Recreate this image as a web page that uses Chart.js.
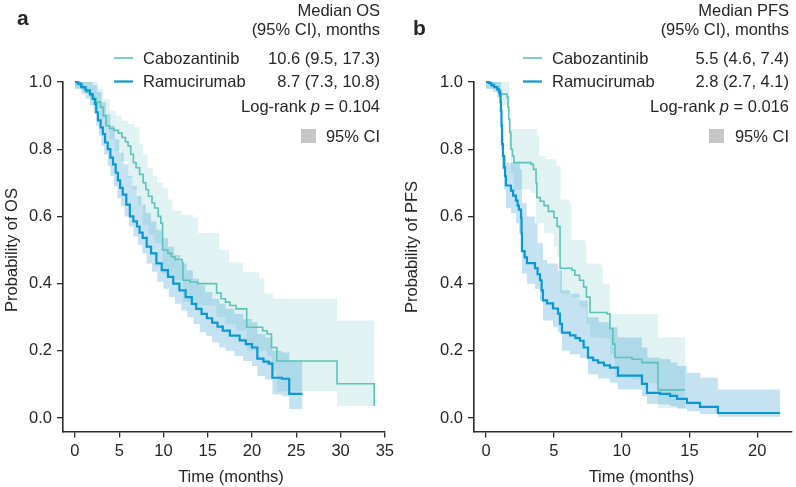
<!DOCTYPE html>
<html>
<head>
<meta charset="utf-8">
<title>Cabozantinib vs Ramucirumab: OS and PFS</title>
<script src="https://cdn.jsdelivr.net/npm/chart.js@4.4.1/dist/chart.umd.min.js"></script>
<style>
  html, body { margin: 0; padding: 0; background: #fff; }
  #wrap { position: relative; width: 796px; height: 487px; }
  canvas { position: absolute; top: 0; }
</style>
</head>
<body>
<div id="wrap">
  <canvas id="osChart" width="398" height="487" style="left:0"></canvas>
  <canvas id="pfsChart" width="398" height="487" style="left:398px"></canvas>
</div>
<script>
// ---- data: [time (months), survival probability] ----

// Panel a - overall survival
const caboOS = [[0,1.0],[0.5,0.99],[0.9,0.98],[1.3,0.97],[1.7,0.96],[2.1,0.95],[2.4,0.94],[2.9,0.925],[3.2,0.90],[3.5,0.87],
  [3.9,0.862],[4.4,0.856],[4.9,0.848],[5.3,0.835],[5.7,0.822],[6.0,0.81],[6.3,0.785],[6.6,0.76],[6.9,0.745],[7.3,0.725],
  [7.7,0.70],[8.0,0.68],[8.3,0.66],[8.7,0.64],[9.0,0.625],[9.4,0.60],[9.7,0.58],[9.9,0.50],[10.5,0.49],[10.9,0.48],
  [11.3,0.472],[12.1,0.462],[12.2,0.41],[13.0,0.405],[13.9,0.40],[16.0,0.372],[16.5,0.355],[17.0,0.345],[17.5,0.335],
  [18.2,0.325],[19.4,0.27],[21.2,0.26],[21.7,0.25],[22.2,0.21],[22.8,0.17],[29.6,0.102],[33.8,0.036]];
const caboOSHi = [[0,1.0],[2.0,1.0],[2.6,0.98],[3.2,0.95],[3.9,0.915],[4.6,0.9],[5.3,0.885],[6.0,0.875],[6.75,0.865],
  [7.3,0.815],[7.7,0.785],[8.2,0.745],[8.8,0.72],[9.3,0.70],[9.9,0.685],[10.5,0.65],[11.0,0.617],[12.0,0.605],[13.3,0.596],
  [13.9,0.551],[16.3,0.50],[17.4,0.464],[19.0,0.434],[20.8,0.416],[21.4,0.371],[22.4,0.356],[29.6,0.29],[33.8,0.29]];
const caboOSLo = [[0,0.98],[1.0,0.965],[1.7,0.945],[2.3,0.92],[2.9,0.89],[3.4,0.865],[3.9,0.83],[4.5,0.795],[5.2,0.765],
  [6.0,0.715],[6.5,0.68],[7.1,0.635],[7.65,0.575],[8.3,0.545],[9.0,0.52],[9.9,0.43],[10.5,0.42],[11.3,0.41],[12.2,0.345],
  [13.9,0.335],[16.0,0.30],[17.0,0.28],[18.2,0.26],[19.4,0.2],[21.7,0.185],[22.2,0.14],[22.8,0.08],[29.6,0.036],[33.8,0.036]];

const ramuOS = [[0,1.0],[0.3,0.995],[0.7,0.985],[1.2,0.975],[1.7,0.964],[2.0,0.95],[2.25,0.935],[2.4,0.91],[2.6,0.886],
  [2.9,0.865],[3.15,0.845],[3.4,0.82],[3.7,0.80],[4.0,0.775],[4.3,0.755],[4.6,0.73],[4.85,0.707],[5.1,0.685],[5.4,0.665],
  [5.8,0.635],[6.2,0.60],[6.6,0.585],[7.0,0.57],[7.3,0.552],[7.65,0.536],[8.1,0.51],[8.6,0.49],[9.2,0.46],[9.8,0.44],
  [10.5,0.42],[11.1,0.40],[11.8,0.38],[12.5,0.36],[13.2,0.34],[13.7,0.325],[14.3,0.31],[14.9,0.297],[15.5,0.284],
  [16.1,0.272],[16.7,0.26],[17.5,0.245],[18.6,0.231],[19.3,0.22],[20.0,0.21],[20.6,0.177],[21.3,0.168],[21.9,0.162],
  [22.3,0.12],[23.4,0.117],[24.2,0.072],[25.7,0.072]];
const ramuOSHi = [[0,1.0],[1.0,1.0],[2.0,0.99],[2.5,0.97],[3.0,0.94],[3.5,0.905],[4.0,0.87],[4.5,0.83],[5.0,0.79],[5.5,0.755],
  [6.0,0.72],[6.5,0.69],[7.0,0.66],[7.5,0.635],[8.0,0.61],[8.6,0.585],[9.2,0.56],[9.8,0.535],[10.5,0.51],[11.2,0.485],
  [11.9,0.46],[12.6,0.44],[13.3,0.415],[14.0,0.395],[14.7,0.375],[15.5,0.355],[16.3,0.34],[17.0,0.325],[18.0,0.31],
  [19.0,0.295],[20.0,0.285],[20.6,0.25],[21.5,0.24],[22.3,0.2],[23.4,0.195],[24.2,0.17],[25.7,0.17]];
const ramuOSLo = [[0,0.98],[0.7,0.965],[1.2,0.95],[1.7,0.93],[2.1,0.905],[2.4,0.87],[2.7,0.84],[3.0,0.81],[3.3,0.785],
  [3.7,0.75],[4.0,0.72],[4.4,0.69],[4.8,0.655],[5.2,0.63],[5.6,0.6],[6.1,0.57],[6.6,0.54],[7.1,0.515],[7.6,0.49],[8.1,0.46],
  [8.7,0.435],[9.3,0.405],[10.0,0.385],[10.6,0.36],[11.3,0.34],[12.0,0.32],[12.7,0.3],[13.4,0.28],[14.1,0.255],[14.8,0.245],
  [15.5,0.225],[16.3,0.21],[17.0,0.2],[18.0,0.185],[19.0,0.17],[20.0,0.155],[20.6,0.125],[21.5,0.115],[22.3,0.07],
  [23.4,0.065],[24.2,0.027],[25.7,0.027]];

// Panel b - progression-free survival
const caboPFS = [[0,1.0],[0.3,0.994],[0.6,0.985],[0.9,0.976],[1.1,0.964],[1.55,0.955],[1.62,0.925],[1.68,0.89],[1.75,0.85],
  [1.84,0.80],[1.95,0.78],[2.06,0.76],[3.32,0.755],[3.5,0.74],[3.69,0.70],[3.75,0.656],[4.0,0.645],[4.28,0.632],[4.6,0.615],
  [5.01,0.596],[5.24,0.57],[5.46,0.446],[6.34,0.44],[6.55,0.425],[6.9,0.41],[7.2,0.39],[7.4,0.36],[7.67,0.314],[8.92,0.31],
  [9.14,0.266],[9.35,0.22],[9.51,0.18],[10.77,0.175],[11.5,0.165],[12.68,0.084],[14.68,0.084]];
const caboPFSHi = [[0,1.0],[1.62,1.0],[1.7,0.86],[3.8,0.84],[3.9,0.78],[4.4,0.77],[5.2,0.75],[5.5,0.65],[6.2,0.64],[6.3,0.53],
  [7.3,0.52],[7.4,0.46],[8.5,0.45],[8.6,0.40],[9.14,0.31],[12.68,0.31],[12.7,0.24],[14.68,0.24]];
const caboPFSLo = [[0,0.98],[0.9,0.95],[1.1,0.93],[1.55,0.915],[1.62,0.87],[1.7,0.8],[1.84,0.73],[2.06,0.68],[3.32,0.67],
  [3.69,0.58],[4.28,0.55],[5.01,0.51],[5.24,0.48],[5.46,0.37],[6.34,0.36],[6.9,0.33],[7.4,0.28],[7.67,0.24],[8.92,0.235],
  [9.14,0.19],[9.51,0.12],[10.77,0.115],[11.5,0.105],[12.68,0.03],[14.68,0.03]];

const ramuPFS = [[0,1.0],[0.2,0.997],[0.4,0.99],[0.6,0.985],[0.81,0.978],[0.95,0.97],[1.03,0.962],[1.07,0.94],[1.1,0.915],
  [1.14,0.87],[1.18,0.815],[1.25,0.78],[1.33,0.746],[1.4,0.72],[1.47,0.692],[1.84,0.677],[2.0,0.662],[2.21,0.647],
  [2.33,0.632],[2.43,0.62],[2.58,0.596],[2.62,0.55],[2.65,0.497],[2.85,0.478],[3.02,0.461],[3.61,0.446],[3.8,0.428],
  [3.98,0.41],[4.1,0.38],[4.2,0.35],[4.5,0.341],[4.94,0.326],[5.31,0.311],[5.45,0.28],[5.6,0.254],[6.19,0.246],[6.6,0.238],
  [6.93,0.23],[7.2,0.21],[7.52,0.18],[7.9,0.172],[8.26,0.165],[8.7,0.157],[9.14,0.15],[9.73,0.126],[11.5,0.102],
  [11.87,0.075],[12.83,0.072],[13.57,0.066],[14.09,0.057],[14.82,0.045],[15.78,0.033],[17.1,0.015],[21.68,0.015]];
const ramuPFSHi = [[0,1.0],[1.03,1.0],[1.1,0.98],[1.15,0.9],[1.2,0.84],[1.3,0.78],[1.47,0.76],[2.5,0.74],[2.65,0.64],[3.0,0.6],
  [3.6,0.58],[3.8,0.52],[4.2,0.47],[4.5,0.46],[5.3,0.44],[5.6,0.38],[6.2,0.37],[6.9,0.35],[7.5,0.30],[8.3,0.285],[9.1,0.27],
  [9.7,0.24],[11.5,0.21],[11.9,0.18],[12.8,0.175],[13.6,0.165],[14.1,0.155],[14.8,0.135],[15.8,0.12],[17.1,0.085],[21.68,0.085]];
const ramuPFSLo = [[0,0.98],[0.5,0.97],[0.81,0.955],[1.03,0.935],[1.07,0.9],[1.1,0.86],[1.14,0.8],[1.18,0.74],[1.33,0.68],
  [1.47,0.625],[1.84,0.61],[2.21,0.58],[2.43,0.55],[2.58,0.53],[2.65,0.43],[3.02,0.4],[3.61,0.385],[3.98,0.35],[4.2,0.29],
  [4.94,0.27],[5.31,0.255],[5.6,0.2],[6.19,0.19],[6.93,0.178],[7.52,0.13],[8.26,0.118],[9.14,0.105],[9.73,0.085],[11.5,0.065],
  [11.87,0.042],[12.83,0.04],[13.57,0.035],[14.09,0.028],[14.82,0.02],[15.78,0.012],[17.1,0.004],[21.68,0.004]];

// ticks
const yTicks = [0, 0.2, 0.4, 0.6, 0.8, 1.0];
const xTicksOS = [0, 5, 10, 15, 20, 25, 30, 35];
const xTicksPFS = [0, 5, 10, 15, 20];

// legend / annotation text
const armNames = ['Cabozantinib', 'Ramucirumab'];
const osMedians = ['10.6 (9.5, 17.3)', '8.7 (7.3, 10.8)'];
const pfsMedians = ['5.5 (4.6, 7.4)', '2.8 (2.7, 4.1)'];
const osHeader = ['Median OS', '(95% CI), months'];
const pfsHeader = ['Median PFS', '(95% CI), months'];

// ---- styles ----
const FAMILY = '"Liberation Sans", Arial, Helvetica, sans-serif';
const TEXT = '#262626';
const AXIS = '#2b2b2b';
const CABO = '#5cc3b7';
const RAMU = '#0a98d4';
const CABO_CI = 'rgba(100, 190, 190, 0.2)';
const RAMU_CI = 'rgba(58, 158, 212, 0.3)';

Chart.defaults.font.family = FAMILY;
Chart.defaults.font.size = 16.5;
Chart.defaults.color = TEXT;

function pts(arr) {
    return arr.map(p => ({x: p[0], y: p[1]}));
}

// text, legend and axis titles drawn on top of each panel
const panelText = {
    id: 'panelText',
    afterDraw(chart, args, o) {
        const ctx = chart.ctx;
        const font = '16.5px ' + FAMILY;
        ctx.save();
        ctx.fillStyle = TEXT;
        ctx.textBaseline = 'alphabetic';

        // panel letter
        ctx.font = 'bold 21px ' + FAMILY;
        ctx.textAlign = 'left';
        ctx.fillText(o.letter, o.letterX, o.letterY);

        // header
        ctx.font = font;
        ctx.textAlign = 'right';
        ctx.fillText(o.header[0], o.right, 16);
        ctx.fillText(o.header[1], o.right, 35);

        // legend rows
        const colors = [CABO, RAMU];
        const widths = [1.6, 2.2];
        armNames.forEach((name, i) => {
            const y = 63.5 + i * 23.5;
            ctx.strokeStyle = colors[i];
            ctx.lineWidth = widths[i];
            ctx.beginPath();
            ctx.moveTo(o.lineX, y - 5.5);
            ctx.lineTo(o.lineX + 19, y - 5.5);
            ctx.stroke();
            ctx.textAlign = 'left';
            ctx.fillText(name, o.lineX + 29, y);
            ctx.textAlign = 'right';
            ctx.fillText(o.medians[i], o.right, y);
        });

        // log-rank p, with italic p
        const italic = 'italic 16.5px ' + FAMILY;
        const a = 'Log-rank ', b = 'p', c = ' = ' + o.pValue;
        ctx.font = font;
        const wa = ctx.measureText(a).width, wc = ctx.measureText(c).width;
        ctx.font = italic;
        const wb = ctx.measureText(b).width;
        let x = o.right - wa - wb - wc;
        ctx.textAlign = 'left';
        ctx.font = font;
        ctx.fillText(a, x, 111.5);
        ctx.font = italic;
        ctx.fillText(b, x + wa, 111.5);
        ctx.font = font;
        ctx.fillText(c, x + wa + wb, 111.5);

        // CI key
        ctx.fillStyle = '#c6c6c6';
        ctx.fillRect(o.boxX, 129, 15, 14);
        ctx.fillStyle = TEXT;
        ctx.textAlign = 'right';
        ctx.fillText('95% CI', o.right, 142);

        // axis titles
        ctx.textAlign = 'center';
        ctx.textBaseline = 'middle';
        ctx.fillText('Time (months)', o.xTitleX, 477);
        ctx.translate(o.yTitleX, o.yTitleY);
        ctx.rotate(-Math.PI / 2);
        ctx.fillText(o.yTitle, 0, 0);
        ctx.restore();
    }
};

function kmChart(id, o) {
    const line = (data, color, width) => ({
        data: pts(data), borderColor: color, borderWidth: width, stepped: 'before',
        pointRadius: 0, fill: false, order: 0, clip: 6
    });
    const band = (data, fill, color, order) => ({
        data: pts(data), borderColor: 'rgba(0,0,0,0)', borderWidth: 0, stepped: 'before',
        pointRadius: 0, fill: fill, backgroundColor: color, order: order
    });
    return new Chart(document.getElementById(id), {
        type: 'line',
        data: {
            datasets: [
                line(o.ramu, RAMU, 2.2),
                line(o.cabo, CABO, 1.6),
                band(o.ramuHi, '+1', RAMU_CI, 1),
                band(o.ramuLo, false, RAMU_CI, 1),
                band(o.caboHi, '+1', CABO_CI, 2),
                band(o.caboLo, false, CABO_CI, 2)
            ]
        },
        options: {
            responsive: false,
            animation: false,
            devicePixelRatio: 1,
            layout: { padding: { top: 82, right: o.padRight, left: 0, bottom: 0 } },
            plugins: {
                legend: { display: false },
                tooltip: { enabled: false },
                panelText: o.text
            },
            scales: {
                x: {
                    type: 'linear',
                    min: o.xMin,
                    max: o.xMax,
                    afterBuildTicks: s => { s.ticks = o.xTicks.map(v => ({value: v})); },
                    afterFit: s => { s.height = 55.5; },
                    grid: { drawOnChartArea: false, drawTicks: true, tickLength: 6, color: AXIS, lineWidth: 1.3 },
                    border: { display: true, color: AXIS, width: 1.6 },
                    ticks: { color: TEXT, padding: 4, maxRotation: 0, autoSkip: false }
                },
                y: {
                    type: 'linear',
                    min: -0.04,
                    max: 1.0,
                    afterBuildTicks: s => { s.ticks = yTicks.map(v => ({value: v})); },
                    afterFit: s => { s.width = o.yAxisW; },
                    grid: { drawOnChartArea: false, drawTicks: true, tickLength: 6, color: AXIS, lineWidth: 1.3 },
                    border: { display: true, color: AXIS, width: 1.6 },
                    ticks: { color: TEXT, padding: 5, callback: v => v.toFixed(1) }
                }
            }
        },
        plugins: [panelText]
    });
}

kmChart('osChart', {
    cabo: caboOS, caboHi: caboOSHi, caboLo: caboOSLo,
    ramu: ramuOS, ramuHi: ramuOSHi, ramuLo: ramuOSLo,
    xMin: -1.35, xMax: 35, xTicks: xTicksOS, yAxisW: 63, padRight: 12,
    text: {
        letter: 'a', letterX: 17, letterY: 25, header: osHeader, medians: osMedians,
        pValue: '0.104', right: 380, lineX: 114, boxX: 301,
        xTitleX: 231, yTitle: 'Probability of OS', yTitleX: 12, yTitleY: 250
    }
});

kmChart('pfsChart', {
    cabo: caboPFS, caboHi: caboPFSHi, caboLo: caboPFSLo,
    ramu: ramuPFS, ramuHi: ramuPFSHi, ramuLo: ramuPFSLo,
    xMin: -0.885, xMax: 22.54, xTicks: xTicksPFS, yAxisW: 76, padRight: 4.3,
    text: {
        letter: 'b', letterX: 15, letterY: 35, header: pfsHeader, medians: pfsMedians,
        pValue: '0.016', right: 391, lineX: 125, boxX: 311,
        xTitleX: 243.5, yTitle: 'Probability of PFS', yTitleX: 14, yTitleY: 247
    }
});
</script>
</body>
</html>
